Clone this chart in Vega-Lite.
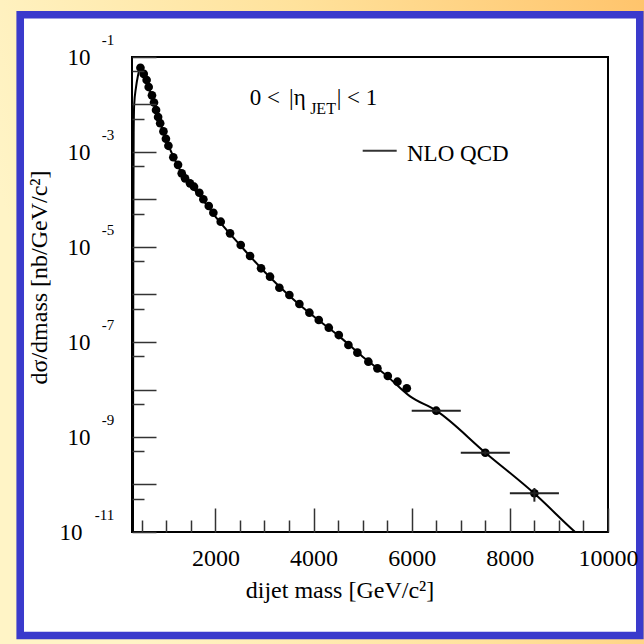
{
  "$schema": "https://vega.github.io/schema/vega-lite/v6.json",
  "width": 476,
  "height": 475,
  "autosize": "none",
  "padding": {"left": 132, "top": 57, "right": 36, "bottom": 112},
  "background": "#FFE6A2",
  "config": {"view": {"stroke": null}, "font": "Liberation Serif"},
  "datasets": {
    "pts": [
      {"m": 472, "v": 5.93e-2}, {"m": 539, "v": 4.41e-2}, {"m": 598, "v": 3.27e-2}, {"m": 640, "v": 2.33e-2},
      {"m": 707, "v": 1.56e-2}, {"m": 748, "v": 1.10e-2}, {"m": 790, "v": 7.64e-3}, {"m": 832, "v": 5.45e-3},
      {"m": 874, "v": 4.04e-3}, {"m": 941, "v": 2.71e-3}, {"m": 991, "v": 1.90e-3}, {"m": 1042, "v": 1.35e-3},
      {"m": 1142, "v": 7.74e-4}, {"m": 1238, "v": 5.37e-4}, {"m": 1313, "v": 3.55e-4}, {"m": 1381, "v": 2.79e-4},
      {"m": 1482, "v": 2.19e-4}, {"m": 1564, "v": 1.86e-4}, {"m": 1672, "v": 1.39e-4}, {"m": 1754, "v": 1.01e-4},
      {"m": 1864, "v": 7.30e-5}, {"m": 1958, "v": 5.27e-5}, {"m": 2108, "v": 3.41e-5}, {"m": 2298, "v": 1.94e-5},
      {"m": 2516, "v": 1.10e-5}, {"m": 2706, "v": 6.47e-6}, {"m": 2930, "v": 3.56e-6}, {"m": 3113, "v": 2.37e-6},
      {"m": 3303, "v": 1.39e-6}, {"m": 3507, "v": 9.75e-7}, {"m": 3711, "v": 6.31e-7}, {"m": 3915, "v": 4.14e-7},
      {"m": 4106, "v": 2.90e-7}, {"m": 4310, "v": 2.00e-7}, {"m": 4514, "v": 1.40e-7}, {"m": 4710, "v": 8.65e-8},
      {"m": 4893, "v": 5.96e-8}, {"m": 5117, "v": 3.85e-8}, {"m": 5301, "v": 2.79e-8}, {"m": 5513, "v": 1.92e-8},
      {"m": 5709, "v": 1.46e-8}, {"m": 5900, "v": 1.06e-8},
      {"m": 6500, "v": 3.58e-9, "mlo": 6000, "mhi": 7000, "vlo": 3.3e-9, "vhi": 3.9e-9},
      {"m": 7500, "v": 4.67e-10, "mlo": 7000, "mhi": 8000, "vlo": 4.2e-10, "vhi": 5.2e-10},
      {"m": 8500, "v": 6.53e-11, "mlo": 8000, "mhi": 9000, "vlo": 4.35e-11, "vhi": 8.43e-11}
    ],
    "nlo": [
      {"m": 318, "v": 1e-13}, {"m": 326, "v": 1e-5}, {"m": 334, "v": 2.5e-3}, {"m": 345, "v": 1.0e-2},
      {"m": 380, "v": 2.24e-2}, {"m": 420, "v": 3.98e-2}, {"m": 457, "v": 5.62e-2}, {"m": 480, "v": 5.89e-2},
      {"m": 540, "v": 4.27e-2}, {"m": 600, "v": 3.02e-2}, {"m": 700, "v": 1.51e-2}, {"m": 800, "v": 6.92e-3},
      {"m": 900, "v": 3.39e-3}, {"m": 1000, "v": 1.78e-3}, {"m": 1100, "v": 1.0e-3}, {"m": 1200, "v": 6.03e-4},
      {"m": 1300, "v": 3.8e-4}, {"m": 1400, "v": 2.63e-4}, {"m": 1500, "v": 1.95e-4}, {"m": 1700, "v": 1.12e-4},
      {"m": 2000, "v": 4.37e-5}, {"m": 2500, "v": 1.10e-5}, {"m": 3000, "v": 3.02e-6}, {"m": 3500, "v": 9.55e-7},
      {"m": 4000, "v": 3.47e-7}, {"m": 4500, "v": 1.38e-7}, {"m": 5000, "v": 4.9e-8}, {"m": 5500, "v": 1.91e-8},
      {"m": 5960, "v": 7.24e-9}, {"m": 6500, "v": 3.58e-9}, {"m": 7500, "v": 4.68e-10}, {"m": 8500, "v": 6.46e-11},
      {"m": 9330, "v": 1.0e-11}, {"m": 9500, "v": 7e-12}
    ],
    "bg": [{"m": -2391, "m2": 10738, "v": 1.585, "v2": 4.4e-14}],
    "panel": [{"m": -1978, "m2": 10648, "v": 0.7734, "v2": 6.62e-14}],
    "frame": [{"m": 300, "m2": 10000, "v": 1e-11, "v2": 0.1}],
    "exps": [
      {"m": 300, "v": 1e-1, "t": "-1"}, {"m": 300, "v": 1e-3, "t": "-3"}, {"m": 300, "v": 1e-5, "t": "-5"},
      {"m": 300, "v": 1e-7, "t": "-7"}, {"m": 300, "v": 1e-9, "t": "-9"}, {"m": 300, "v": 1e-11, "t": "-11"}
    ],
    "ann": [
      {"t": "0 <", "m": 2700, "v": 1.35e-2}, {"t": "|η", "m": 3500, "v": 1.35e-2}, {"t": "| < 1", "m": 4470, "v": 1.35e-2}
    ],
    "annsub": [{"t": "JET", "m": 3930, "v": 8.17e-3}],
    "legtext": [{"t": "NLO QCD", "m": 5904, "v": 8.86e-4}],
    "legline": [{"m": 5001, "m2": 5694, "v": 1.065e-3}]
  },
  "encoding": {
    "x": {
      "field": "m", "type": "quantitative",
      "scale": {"domain": [300, 10000], "nice": false, "zero": false},
      "axis": {
        "orient": "bottom", "zindex": 1, "domain": false, "grid": false,
        "values": [500, 1000, 1500, 2000, 2500, 3000, 3500, 4000, 4500, 5000, 5500, 6000, 6500, 7000, 7500, 8000, 8500, 9000, 9500, 10000],
        "tickSize": {"condition": {"test": "datum.value % 2000 === 0", "value": -24}, "value": -12},
        "tickColor": "#333333", "tickWidth": 1.5,
        "labelExpr": "datum.value % 2000 === 0 ? format(datum.value, 'd') : ''",
        "labelPadding": 38.5, "labelFont": "Liberation Serif", "labelFontSize": 24, "labelColor": "black",
        "labelAlign": "center", "labelBaseline": "top", "labelFlush": false, "labelOverlap": false, "labelBound": false,
        "title": "dijet mass [GeV/c²]", "titleFont": "Liberation Serif", "titleFontSize": 24, "titleFontWeight": "normal",
        "titleColor": "black", "titleX": 207.5, "titleY": 65.5, "titleAlign": "center", "titleBaseline": "alphabetic"
      }
    },
    "y": {
      "field": "v", "type": "quantitative",
      "scale": {"type": "log", "domain": [1e-11, 0.1], "nice": false},
      "axis": {
        "orient": "left", "zindex": 1, "domain": false, "grid": false,
        "values": [1e-11, 5e-11, 1e-10, 5e-10, 1e-9, 5e-9, 1e-8, 5e-8, 1e-7, 5e-7, 1e-6, 5e-6, 1e-5, 5e-5, 1e-4, 5e-4, 1e-3, 5e-3, 1e-2, 5e-2, 1e-1],
        "tickSize": {"condition": {"test": "abs(log(datum.value)/LN10 - round(log(datum.value)/LN10)) < 0.01", "value": -24}, "value": -12},
        "tickColor": "#333333", "tickWidth": 1.5,
        "labelExpr": "abs(log(datum.value)/LN10 - round(log(datum.value)/LN10)) < 0.01 && round(log(datum.value)/LN10) % 2 !== 0 ? '10' : ''",
        "labelPadding": {"condition": {"test": "datum.value < 2e-11", "value": 74}, "value": 66},
        "labelFont": "Liberation Serif", "labelFontSize": 23, "labelColor": "black",
        "labelAlign": "right", "labelBaseline": "middle", "labelFlush": false, "labelOverlap": false, "labelBound": false,
        "title": "dσ/dmass [nb/GeV/c²]", "titleFont": "Liberation Serif", "titleFontSize": 24, "titleFontWeight": "normal",
        "titleColor": "black", "titleAngle": -90, "titleX": -86, "titleY": 220, "titleAlign": "center", "titleBaseline": "alphabetic"
      }
    }
  },
  "layer": [
    {
      "data": {"name": "bg"},
      "mark": {"type": "rect", "stroke": null, "fill": {"gradient": "linear", "x1": 0, "y1": 0.3, "x2": 1, "y2": 0, "stops": [{"offset": 0, "color": "#FFF4C6"}, {"offset": 0.5, "color": "#FFE29C"}, {"offset": 1, "color": "#FFC46C"}]}},
      "encoding": {"x2": {"field": "m2"}, "y2": {"field": "v2"}}
    },
    {
      "data": {"name": "panel"},
      "mark": {"type": "rect", "fill": "white", "stroke": "#3A3ACC", "strokeWidth": 7.6},
      "encoding": {"x2": {"field": "m2"}, "y2": {"field": "v2"}}
    },
    {
      "data": {"name": "frame"},
      "mark": {"type": "rect", "fill": "white", "fillOpacity": 0, "stroke": "black", "strokeWidth": 2},
      "encoding": {"x2": {"field": "m2"}, "y2": {"field": "v2"}}
    },
    {
      "data": {"name": "nlo"},
      "mark": {"type": "line", "color": "black", "strokeWidth": 2, "clip": true, "interpolate": "monotone"},
      "encoding": {}
    },
    {
      "data": {"name": "pts"},
      "mark": {"type": "circle", "color": "black", "size": 75, "opacity": 1}
    },
    {
      "data": {"name": "pts"},
      "transform": [{"filter": "isValid(datum.mlo)"}],
      "mark": {"type": "rule", "color": "#222222", "strokeWidth": 2},
      "encoding": {"x": {"field": "mlo", "type": "quantitative"}, "x2": {"field": "mhi"}}
    },
    {
      "data": {"name": "pts"},
      "transform": [{"filter": "isValid(datum.mlo)"}],
      "mark": {"type": "rule", "color": "#222222", "strokeWidth": 2},
      "encoding": {"y": {"field": "vlo", "type": "quantitative"}, "y2": {"field": "vhi"}}
    },
    {
      "data": {"name": "exps"},
      "mark": {"type": "text", "align": "right", "baseline": "middle", "dx": -17.7, "dy": -17, "fontSize": 15, "font": "Liberation Serif", "color": "black"},
      "encoding": {"text": {"field": "t"}}
    },
    {
      "data": {"name": "ann"},
      "mark": {"type": "text", "align": "left", "baseline": "middle", "fontSize": 23, "font": "Liberation Serif", "color": "black"},
      "encoding": {"text": {"field": "t"}}
    },
    {
      "data": {"name": "annsub"},
      "mark": {"type": "text", "align": "left", "baseline": "middle", "fontSize": 16, "font": "Liberation Serif", "color": "black"},
      "encoding": {"text": {"field": "t"}}
    },
    {
      "data": {"name": "legtext"},
      "mark": {"type": "text", "align": "left", "baseline": "middle", "fontSize": 23, "font": "Liberation Serif", "color": "black"},
      "encoding": {"text": {"field": "t"}}
    },
    {
      "data": {"name": "legline"},
      "mark": {"type": "rule", "color": "#333333", "strokeWidth": 2},
      "encoding": {"x2": {"field": "m2"}}
    }
  ]
}
